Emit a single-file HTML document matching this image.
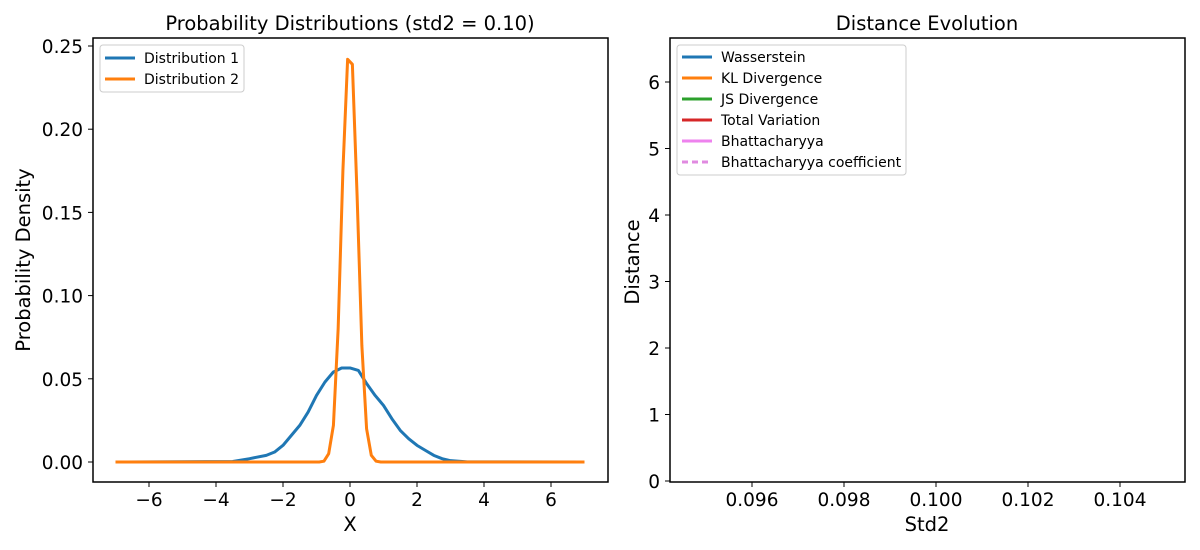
<!DOCTYPE html>
<html><head><meta charset="utf-8"><style>
html,body{margin:0;padding:0;background:#fff}
svg{display:block;font-family:"DejaVu Sans","Liberation Sans",sans-serif}
</style></head><body>
<svg id="chart" width="1200" height="550" xmlns="http://www.w3.org/2000/svg"></svg>
<script>
const d1X=[-7,-3.5,-3,-2.5,-2.25,-2,-1.75,-1.5,-1.25,-1,-0.75,-0.5,-0.25,0,0.25,0.5,0.75,1,1.25,1.5,1.75,2,2.25,2.5,2.75,3,3.5,7];
const d1Y=[0,0.0003,0.002,0.004,0.006,0.010,0.016,0.022,0.030,0.040,0.048,0.054,0.0565,0.0565,0.055,0.047,0.040,0.034,0.026,0.019,0.014,0.010,0.007,0.004,0.002,0.0008,0.0001,0];
const d2X=[-7,-0.919,-0.778,-0.636,-0.495,-0.354,-0.212,-0.071,0.071,0.212,0.354,0.495,0.636,0.778,0.919,7];
const d2Y=[0,0,0.0005,0.005,0.022,0.08,0.175,0.242,0.239,0.16,0.07,0.02,0.004,0.0005,0,0];
const leftXTicks=[-6,-4,-2,0,2,4,6];
const leftYTicks=[0,0.05,0.10,0.15,0.20,0.25];
const rightXTicks=[0.096,0.098,0.100,0.102,0.104];
const rightYTicks=[0,1,2,3,4,5,6];
const legend2=[["Wasserstein","#1f77b4",""],["KL Divergence","#ff7f0e",""],["JS Divergence","#2ca02c",""],["Total Variation","#d62728",""],["Bhattacharyya","#ee82ee",""],["Bhattacharyya coefficient","#e08ae0","6,4"]];

const TK=18.5, LB=19.5, LG=14;
const svg=document.getElementById('chart');
const NS="http://www.w3.org/2000/svg";
function mk(tag,attrs,parent,txt){const e=document.createElementNS(NS,tag);for(const k in attrs)e.setAttribute(k,attrs[k]);if(txt!==undefined)e.textContent=txt;(parent||svg).appendChild(e);return e;}

// left axes
const lx=v=>350+v*33.5, ly=v=>462-v*1664;
const gL=mk('g',{});


leftXTicks.forEach(t=>{mk('line',{x1:lx(t),x2:lx(t),y1:482,y2:487,stroke:'#000'},gL);
 const e=mk('text',{x:lx(t),y:506,'font-size':TK,'text-anchor':'middle'},gL,(t<0?'\u2212'+(-t):t));
 });
leftYTicks.forEach(t=>{mk('line',{x1:88,x2:93,y1:ly(t),y2:ly(t),stroke:'#000'},gL);
 const e=mk('text',{x:83,y:ly(t)+7,'font-size':TK,'text-anchor':'end'},gL,t.toFixed(2));
 });
function poly(xs,ys,fx,fy,color,name,parent){const p=mk('polyline',{points:xs.map((x,i)=>fx(x)+','+fy(ys[i])).join(' '),fill:'none',stroke:color,'stroke-width':3,'stroke-linejoin':'round'},parent);
 }
poly(d1X,d1Y,lx,ly,'#1f77b4','distribution-1-line',gL);
poly(d2X,d2Y,lx,ly,'#ff7f0e','distribution-2-line',gL);
mk('rect',{x:93,y:38,width:515,height:444,fill:'none',stroke:'#000','stroke-width':1.5},gL);
let t=mk('text',{x:350,y:30,'font-size':LB,'text-anchor':'middle'},gL,'Probability Distributions (std2 = 0.10)');

t=mk('text',{x:350,y:531,'font-size':LB,'text-anchor':'middle'},gL,'X');

t=mk('text',{x:30,y:260,'font-size':LB,'text-anchor':'middle',transform:'rotate(-90 30 260)'},gL,'Probability Density');

const lg1=mk('g',{},gL);


mk('rect',{x:100,y:45,width:144,height:47,rx:3,fill:'#fff',stroke:'#ccc'},lg1);
[["Distribution 1","#1f77b4"],["Distribution 2","#ff7f0e"]].forEach((d,i)=>{const y=58+i*21;
 mk('line',{x1:105,x2:135,y1:y,y2:y,stroke:d[1],'stroke-width':3},lg1);
 const e=mk('text',{x:144,y:y+5,'font-size':LG},lg1,d[0]);
 });

// right axes
const rx=v=>752+(v-0.096)*46000, ry=v=>481-v*66.5;
const gR=mk('g',{});


rightXTicks.forEach(v=>{mk('line',{x1:rx(v),x2:rx(v),y1:482,y2:487,stroke:'#000'},gR);
 const e=mk('text',{x:rx(v),y:506,'font-size':TK,'text-anchor':'middle'},gR,v.toFixed(3));
 });
rightYTicks.forEach(v=>{mk('line',{x1:665,x2:670,y1:ry(v),y2:ry(v),stroke:'#000'},gR);
 const e=mk('text',{x:660,y:ry(v)+7,'font-size':TK,'text-anchor':'end'},gR,String(v));
 });
mk('rect',{x:670,y:38,width:515,height:444,fill:'none',stroke:'#000','stroke-width':1.5},gR);
t=mk('text',{x:927,y:30,'font-size':LB,'text-anchor':'middle'},gR,'Distance Evolution');

t=mk('text',{x:927,y:531,'font-size':LB,'text-anchor':'middle'},gR,'Std2');

t=mk('text',{x:639,y:262,'font-size':LB,'text-anchor':'middle',transform:'rotate(-90 639 262)'},gR,'Distance');

const lg2=mk('g',{},gR);


mk('rect',{x:677,y:45,width:229,height:130,rx:3,fill:'#fff',stroke:'#ccc'},lg2);
legend2.forEach((d,i)=>{const y=57+i*21;
 const a={x1:682,x2:712,y1:y,y2:y,stroke:d[1],'stroke-width':3};if(d[2])a['stroke-dasharray']=d[2];
 mk('line',a,lg2);
 const e=mk('text',{x:721,y:y+5,'font-size':LG},lg2,d[0]);
 });
</script>
</body></html>
